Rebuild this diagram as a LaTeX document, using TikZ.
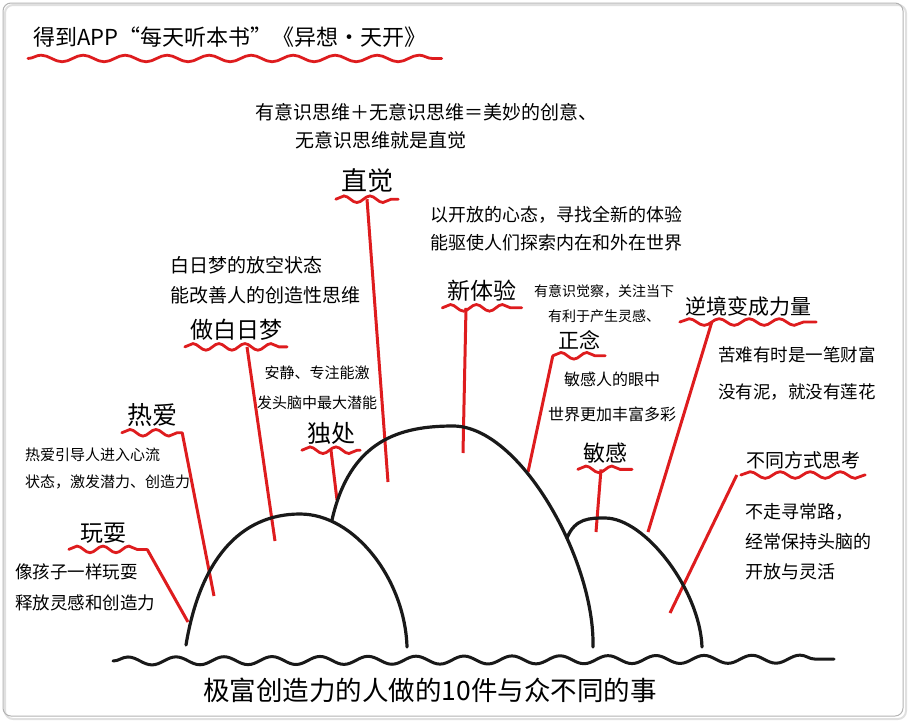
\documentclass[tikz,border=0pt]{standalone}
\usepackage{fontspec}
\newfontfamily\cjk{Noto Sans CJK SC}
\usetikzlibrary{decorations.pathmorphing}
\definecolor{pen}{RGB}{222,28,30}
\definecolor{ink}{RGB}{25,25,25}
\tikzset{
  lbl/.style={font=\cjk\fontsize{#1}{#1}\selectfont, inner xsep=5pt, inner ysep=6pt},
  lbl/.default=22,
  note/.style 2 args={font=\cjk\fontsize{#1}{#2}\selectfont, inner sep=0pt, anchor=west, align=left},
  wave/.style={pen, line width=2.8pt, line cap=round, decorate,
    decoration={snake, segment length=#1, amplitude=3.3pt}},
  wave/.default=26pt,
  stick/.style={pen, line width=3pt},
  hill/.style={ink, line width=3.2pt, line cap=round},
  ground/.style={ink, line width=3pt, line cap=round, decorate,
    decoration={snake, segment length=48pt, amplitude=4pt}},
}

\begin{document}
\begin{tikzpicture}[x=1pt, y=-1pt]
\useasboundingbox (0,0) rectangle (910,721);
% frame
\draw[black!12, line width=2pt, rounded corners=8pt] (5,5) rectangle (906,719);
\draw[black!30, line width=1pt, rounded corners=8pt] (3,3) rectangle (903,716);

% title
\node[lbl=22, anchor=west] (title) at (28,37) {得到APP“每天听本书”《异想·天开》};
\draw[wave=42pt] ([yshift=-5pt]title.south west) -- ([xshift=10pt, yshift=-5pt]title.south east);

% red sticks first, hills on top
\coordinate (zhijue-end) at (388,482);
\coordinate (xintiyan-end) at (463,453);
\coordinate (zhengnian-end) at (528,472);
\coordinate (nijing-end) at (648,532);
\coordinate (mingan-end) at (596,532);
\coordinate (butong-end) at (670,613);
\coordinate (bairi-end) at (275,541);
\coordinate (duchu-end) at (337,500);
\coordinate (reai-end) at (214,596);
\coordinate (wanshua-end) at (188,622);

% zhi jue
\node[note={19}{28}] (zhijue-a) at (255,112) {有意识思维＋无意识思维＝美妙的创意、};
\node[note={19}{28}] (zhijue-b) at (295,140) {无意识思维就是直觉};
\node[lbl=26] (zhijue) at (367,181) {直觉};
\draw[wave] (zhijue.south west) -- (zhijue.south east);
\draw[stick] (zhijue.south) -- (zhijue-end);

% xin ti yan
\node[note={18}{28}] (xintiyan-a) at (430,229) {以开放的心态，寻找全新的体验\\能驱使人们探索内在和外在世界};
\node[lbl=23] (xintiyan) at (482,291) {新体验};
\draw[wave] (xintiyan.south west) -- (xintiyan.south east);
\draw[stick] ([xshift=-16pt]xintiyan.south) -- (xintiyan-end);

% zheng nian
\node[note={14}{25}, anchor=center, align=center] (zhengnian-a) at (604,304) {有意识觉察，关注当下\\有利于产生灵感、};
\node[lbl=21] (zhengnian) at (579,340) {正念};
\draw[wave] (zhengnian.south west) -- (zhengnian.south east);
\draw[stick] (zhengnian.south west) -- (zhengnian-end);

% ni jing
\node[lbl=21] (nijing) at (748,306) {逆境变成力量};
\draw[wave=30pt] (nijing.south west) -- (nijing.south east);
\node[note={17.5}{37}] (nijing-a) at (718,373) {苦难有时是一笔财富\\没有泥，就没有莲花};
\draw[stick] ([xshift=32pt]nijing.south west) -- (nijing-end);

% min gan
\node[note={16}{35}, anchor=center, align=center] (mingan-a) at (612,397) {敏感人的眼中\\世界更加丰富多彩};
\node[lbl=22] (mingan) at (605,453) {敏感};
\draw[wave] (mingan.south west) -- (mingan.south east);
\draw[stick] ([xshift=-4pt]mingan.south) -- (mingan-end);

% bu tong
\node[lbl=19] (butong) at (803,460) {不同方式思考};
\draw[wave=30pt] (butong.south west) -- (butong.south east);
\node[note={18}{30}] (butong-a) at (745,542) {不走寻常路，\\经常保持头脑的\\开放与灵活};
\draw[stick] ([xshift=-4pt]butong.south west) -- (butong-end);

% zuo bai ri meng
\node[note={19}{30}] (bairi-a) at (170,280) {白日梦的放空状态\\能改善人的创造性思维};
\node[lbl=23] (bairi) at (236,330) {做白日梦};
\draw[wave] (bairi.south west) -- (bairi.south east);
\draw[stick] ([xshift=11pt]bairi.south) -- (bairi-end);

% du chu
\node[note={15}{30}, anchor=center, align=center] (duchu-a) at (317,388) {安静、专注能激\\发头脑中最大潜能};
\node[lbl=24] (duchu) at (331,433) {独处};
\draw[wave] (duchu.south west) -- (duchu.south east);
\draw[stick] (duchu.south) -- (duchu-end);

% re ai
\node[lbl=25] (reai) at (152,415) {热爱};
\draw[wave] (reai.south west) -- (reai.south east);
\node[note={15}{27}] (reai-a) at (25,468) {热爱引导人进入心流\\状态，激发潜力、创造力};
\draw[stick] (reai.south east) -- (reai-end);

% wan shua
\node[lbl=23] (wanshua) at (103,533) {玩耍};
\draw[wave] ([xshift=-6pt]wanshua.south west) -- ([xshift=16pt]wanshua.south east);
\node[note={17.5}{31}] (wanshua-a) at (15,587) {像孩子一样玩耍\\释放灵感和创造力};
\draw[stick] ([xshift=16pt]wanshua.south east) -- (wanshua-end);

% hills
\draw[hill] (186,645) .. controls (200,560) and (240,514) .. (300,514)
  .. controls (355,514) and (405,580) .. (407,647);
\draw[hill] (332,520) .. controls (350,440) and (400,426) .. (453,426)
  .. controls (520,426) and (595,560) .. (593,647);
\draw[hill] (567,538) .. controls (575,518) and (590,518) .. (605,518)
  .. controls (645,518) and (700,590) .. (702,647);

% ground and caption
\draw[ground] (113,661) -- (834,659);
\node[lbl=26.5] (caption) at (430,690) {极富创造力的人做的10件与众不同的事};
\end{tikzpicture}
\end{document}
